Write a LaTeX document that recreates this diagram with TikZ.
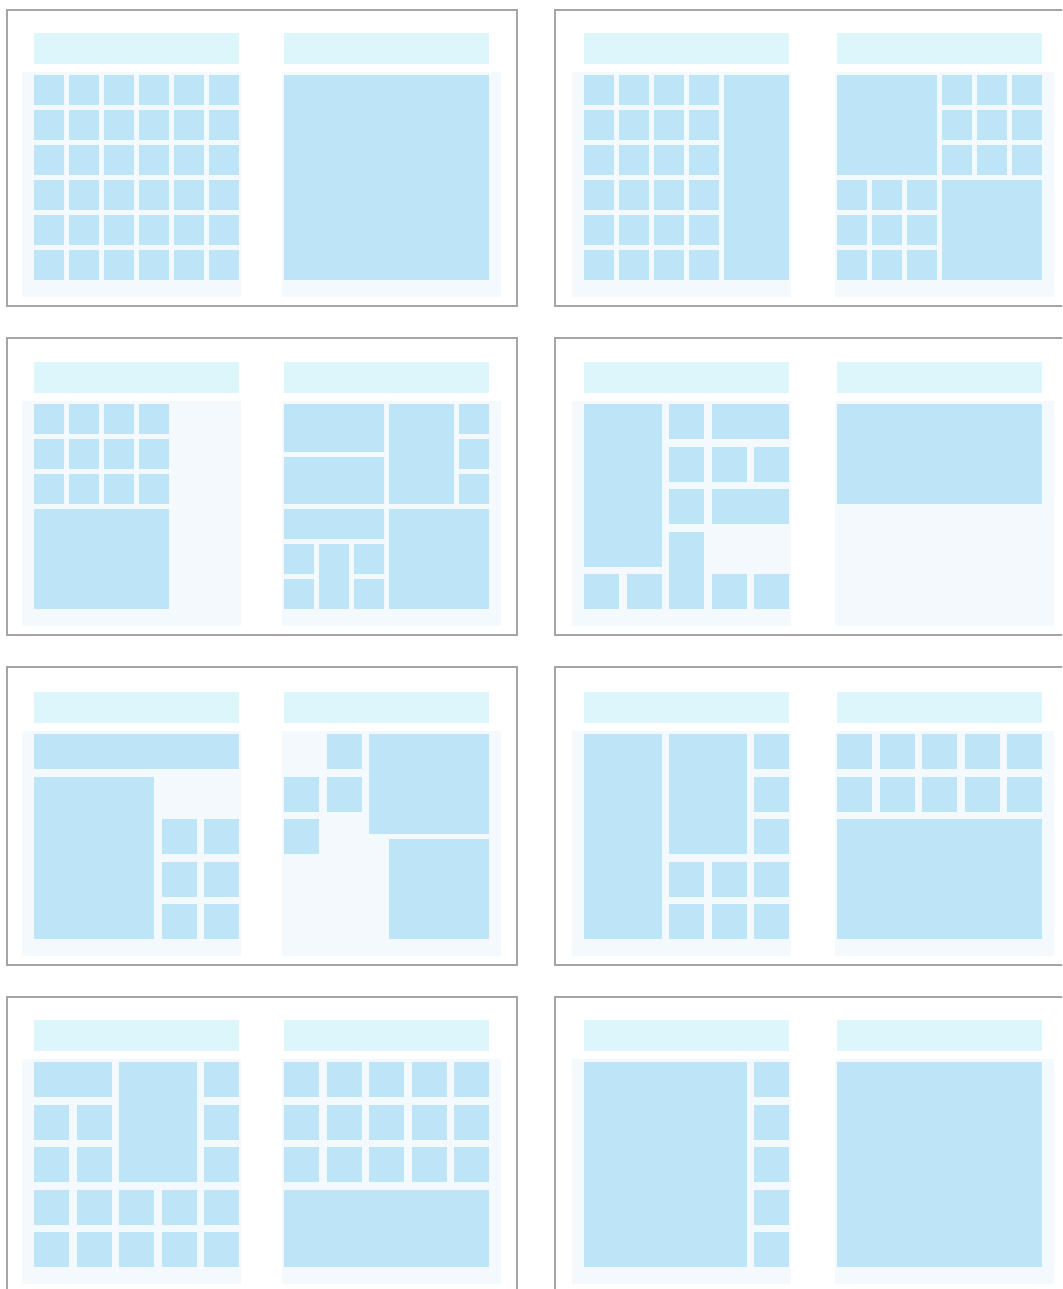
\documentclass[tikz,border=0pt]{standalone}
\usepackage{tikz}

\definecolor{modblue}{RGB}{190,229,247}
\definecolor{headblue}{RGB}{221,246,251}
\definecolor{fieldblue}{RGB}{243,249,252}
\definecolor{framegray}{RGB}{165,165,165}

\begin{document}
\begin{tikzpicture}[
  x=0.2mm, y=-0.2mm,
  frame/.style={draw=framegray, line width=0.7pt},
  head/.style={fill=headblue},
  field/.style={fill=fieldblue},
  modl/.style={fill=modblue},
]
  \useasboundingbox (0,0) rectangle (1062,1289);
  \clip (0,0) rectangle (1062,1289);
  \fill[white] (0,0) rectangle (1062,1289);

  % Spread frames
  \foreach \t/\b in {10/306, 338/635, 667/965, 997/1300} {
    \draw[frame] (7,\t) rectangle (517,\b);
    \draw[frame] (555,\t) rectangle (1080,\b);
  }

  % Page origins (top left of the module area)
  \coordinate (s1a) at (34,75);    \coordinate (s1b) at (284,75);
  \coordinate (s2a) at (584,75);   \coordinate (s2b) at (837,75);
  \coordinate (s3a) at (34,404);   \coordinate (s3b) at (284,404);
  \coordinate (s4a) at (584,404);  \coordinate (s4b) at (837,404);
  \coordinate (s5a) at (34,734);   \coordinate (s5b) at (284,734);
  \coordinate (s6a) at (584,734);  \coordinate (s6b) at (837,734);
  \coordinate (s7a) at (34,1062);  \coordinate (s7b) at (284,1062);
  \coordinate (s8a) at (584,1062); \coordinate (s8b) at (837,1062);

  % Headers and grid fields
  \foreach \p/\a/\b in {s1a/-12/207, s1b/-2/217, s2a/-12/207, s2b/-2/217,
                        s3a/-12/207, s3b/-2/217, s4a/-12/207, s4b/-2/217,
                        s5a/-12/207, s5b/-2/217, s6a/-12/207, s6b/-2/217,
                        s7a/-12/207, s7b/-2/217, s8a/-12/207, s8b/-2/217} {
    \begin{scope}[shift={(\p)}]
      \fill[head] (0,-42) rectangle (205,-11);
      \fill[field] (\a,-3) rectangle (\b,222);
    \end{scope}
  }

  % Spread 1
  \begin{scope}[shift={(s1a)}]
    \foreach \c in {0,...,5} \foreach \r in {0,...,5}
      \fill[modl] ({35*\c},{35*\r}) rectangle +(30,30);
  \end{scope}
  \begin{scope}[shift={(s1b)}]
    \fill[modl] (0,0) rectangle (205,205);
  \end{scope}

  % Spread 2
  \begin{scope}[shift={(s2a)}]
    \foreach \c in {0,...,3} \foreach \r in {0,...,5}
      \fill[modl] ({35*\c},{35*\r}) rectangle +(30,30);
    \fill[modl] (140,0) rectangle (205,205);
  \end{scope}
  \begin{scope}[shift={(s2b)}]
    \fill[modl] (0,0) rectangle (100,100);
    \foreach \c in {3,4,5} \foreach \r in {0,1,2}
      \fill[modl] ({35*\c},{35*\r}) rectangle +(30,30);
    \foreach \c in {0,1,2} \foreach \r in {3,4,5}
      \fill[modl] ({35*\c},{35*\r}) rectangle +(30,30);
    \fill[modl] (105,105) rectangle (205,205);
  \end{scope}

  % Spread 3
  \begin{scope}[shift={(s3a)}]
    \foreach \c in {0,...,3} \foreach \r in {0,1,2}
      \fill[modl] ({35*\c},{35*\r}) rectangle +(30,30);
    \fill[modl] (0,105) rectangle (135,205);
  \end{scope}
  \begin{scope}[shift={(s3b)}]
    \fill[modl] (0,0) rectangle (100,47.5);
    \fill[modl] (0,52.5) rectangle (100,100);
    \fill[modl] (0,105) rectangle (100,135);
    \fill[modl] (0,140) rectangle (30,170);
    \fill[modl] (0,175) rectangle (30,205);
    \fill[modl] (35,140) rectangle (65,205);
    \fill[modl] (70,140) rectangle (100,170);
    \fill[modl] (70,175) rectangle (100,205);
    \fill[modl] (105,0) rectangle (170,100);
    \foreach \r in {0,1,2}
      \fill[modl] (175,{35*\r}) rectangle +(30,30);
    \fill[modl] (105,105) rectangle (205,205);
  \end{scope}

  % Spread 4
  \begin{scope}[shift={(s4a)}]
    \fill[modl] (0,0) rectangle (77.5,162.5);
    \fill[modl] (85,0) rectangle (120,35);
    \fill[modl] (127.5,0) rectangle (205,35);
    \fill[modl] (85,42.5) rectangle (120,77.5);
    \fill[modl] (127.5,42.5) rectangle (162.5,77.5);
    \fill[modl] (170,42.5) rectangle (205,77.5);
    \fill[modl] (85,85) rectangle (120,120);
    \fill[modl] (127.5,85) rectangle (205,120);
    \fill[modl] (85,127.5) rectangle (120,205);
    \fill[modl] (0,170) rectangle (35,205);
    \fill[modl] (42.5,170) rectangle (77.5,205);
    \fill[modl] (127.5,170) rectangle (162.5,205);
    \fill[modl] (170,170) rectangle (205,205);
  \end{scope}
  \begin{scope}[shift={(s4b)}]
    \fill[modl] (0,0) rectangle (205,100);
  \end{scope}

  % Spread 5
  \begin{scope}[shift={(s5a)}]
    \fill[modl] (0,0) rectangle (205,35);
    \fill[modl] (0,42.5) rectangle (120,205);
    \foreach \c in {3,4} \foreach \r in {2,3,4}
      \fill[modl] ({42.5*\c},{42.5*\r}) rectangle +(35,35);
  \end{scope}
  \begin{scope}[shift={(s5b)}]
    \fill[modl] (42.5,0) rectangle (77.5,35);
    \fill[modl] (0,42.5) rectangle (35,77.5);
    \fill[modl] (42.5,42.5) rectangle (77.5,77.5);
    \fill[modl] (0,85) rectangle (35,120);
    \fill[modl] (85,0) rectangle (205,100);
    \fill[modl] (105,105) rectangle (205,205);
  \end{scope}

  % Spread 6
  \begin{scope}[shift={(s6a)}]
    \fill[modl] (0,0) rectangle (77.5,205);
    \fill[modl] (85,0) rectangle (162.5,120);
    \foreach \r in {0,1,2}
      \fill[modl] (170,{42.5*\r}) rectangle +(35,35);
    \foreach \c in {2,3,4} \foreach \r in {3,4}
      \fill[modl] ({42.5*\c},{42.5*\r}) rectangle +(35,35);
  \end{scope}
  \begin{scope}[shift={(s6b)}]
    \foreach \c in {0,...,4} \foreach \r in {0,1}
      \fill[modl] ({42.5*\c},{42.5*\r}) rectangle +(35,35);
    \fill[modl] (0,85) rectangle (205,205);
  \end{scope}

  % Spread 7
  \begin{scope}[shift={(s7a)}]
    \fill[modl] (0,0) rectangle (77.5,35);
    \fill[modl] (85,0) rectangle (162.5,120);
    \foreach \r in {0,...,4}
      \fill[modl] (170,{42.5*\r}) rectangle +(35,35);
    \foreach \c in {0,1} \foreach \r in {1,2}
      \fill[modl] ({42.5*\c},{42.5*\r}) rectangle +(35,35);
    \foreach \c in {0,...,3} \foreach \r in {3,4}
      \fill[modl] ({42.5*\c},{42.5*\r}) rectangle +(35,35);
  \end{scope}
  \begin{scope}[shift={(s7b)}]
    \foreach \c in {0,...,4} \foreach \r in {0,1,2}
      \fill[modl] ({42.5*\c},{42.5*\r}) rectangle +(35,35);
    \fill[modl] (0,127.5) rectangle (205,205);
  \end{scope}

  % Spread 8
  \begin{scope}[shift={(s8a)}]
    \fill[modl] (0,0) rectangle (162.5,205);
    \foreach \r in {0,...,4}
      \fill[modl] (170,{42.5*\r}) rectangle +(35,35);
  \end{scope}
  \begin{scope}[shift={(s8b)}]
    \fill[modl] (0,0) rectangle (205,205);
  \end{scope}

\end{tikzpicture}
\end{document}
